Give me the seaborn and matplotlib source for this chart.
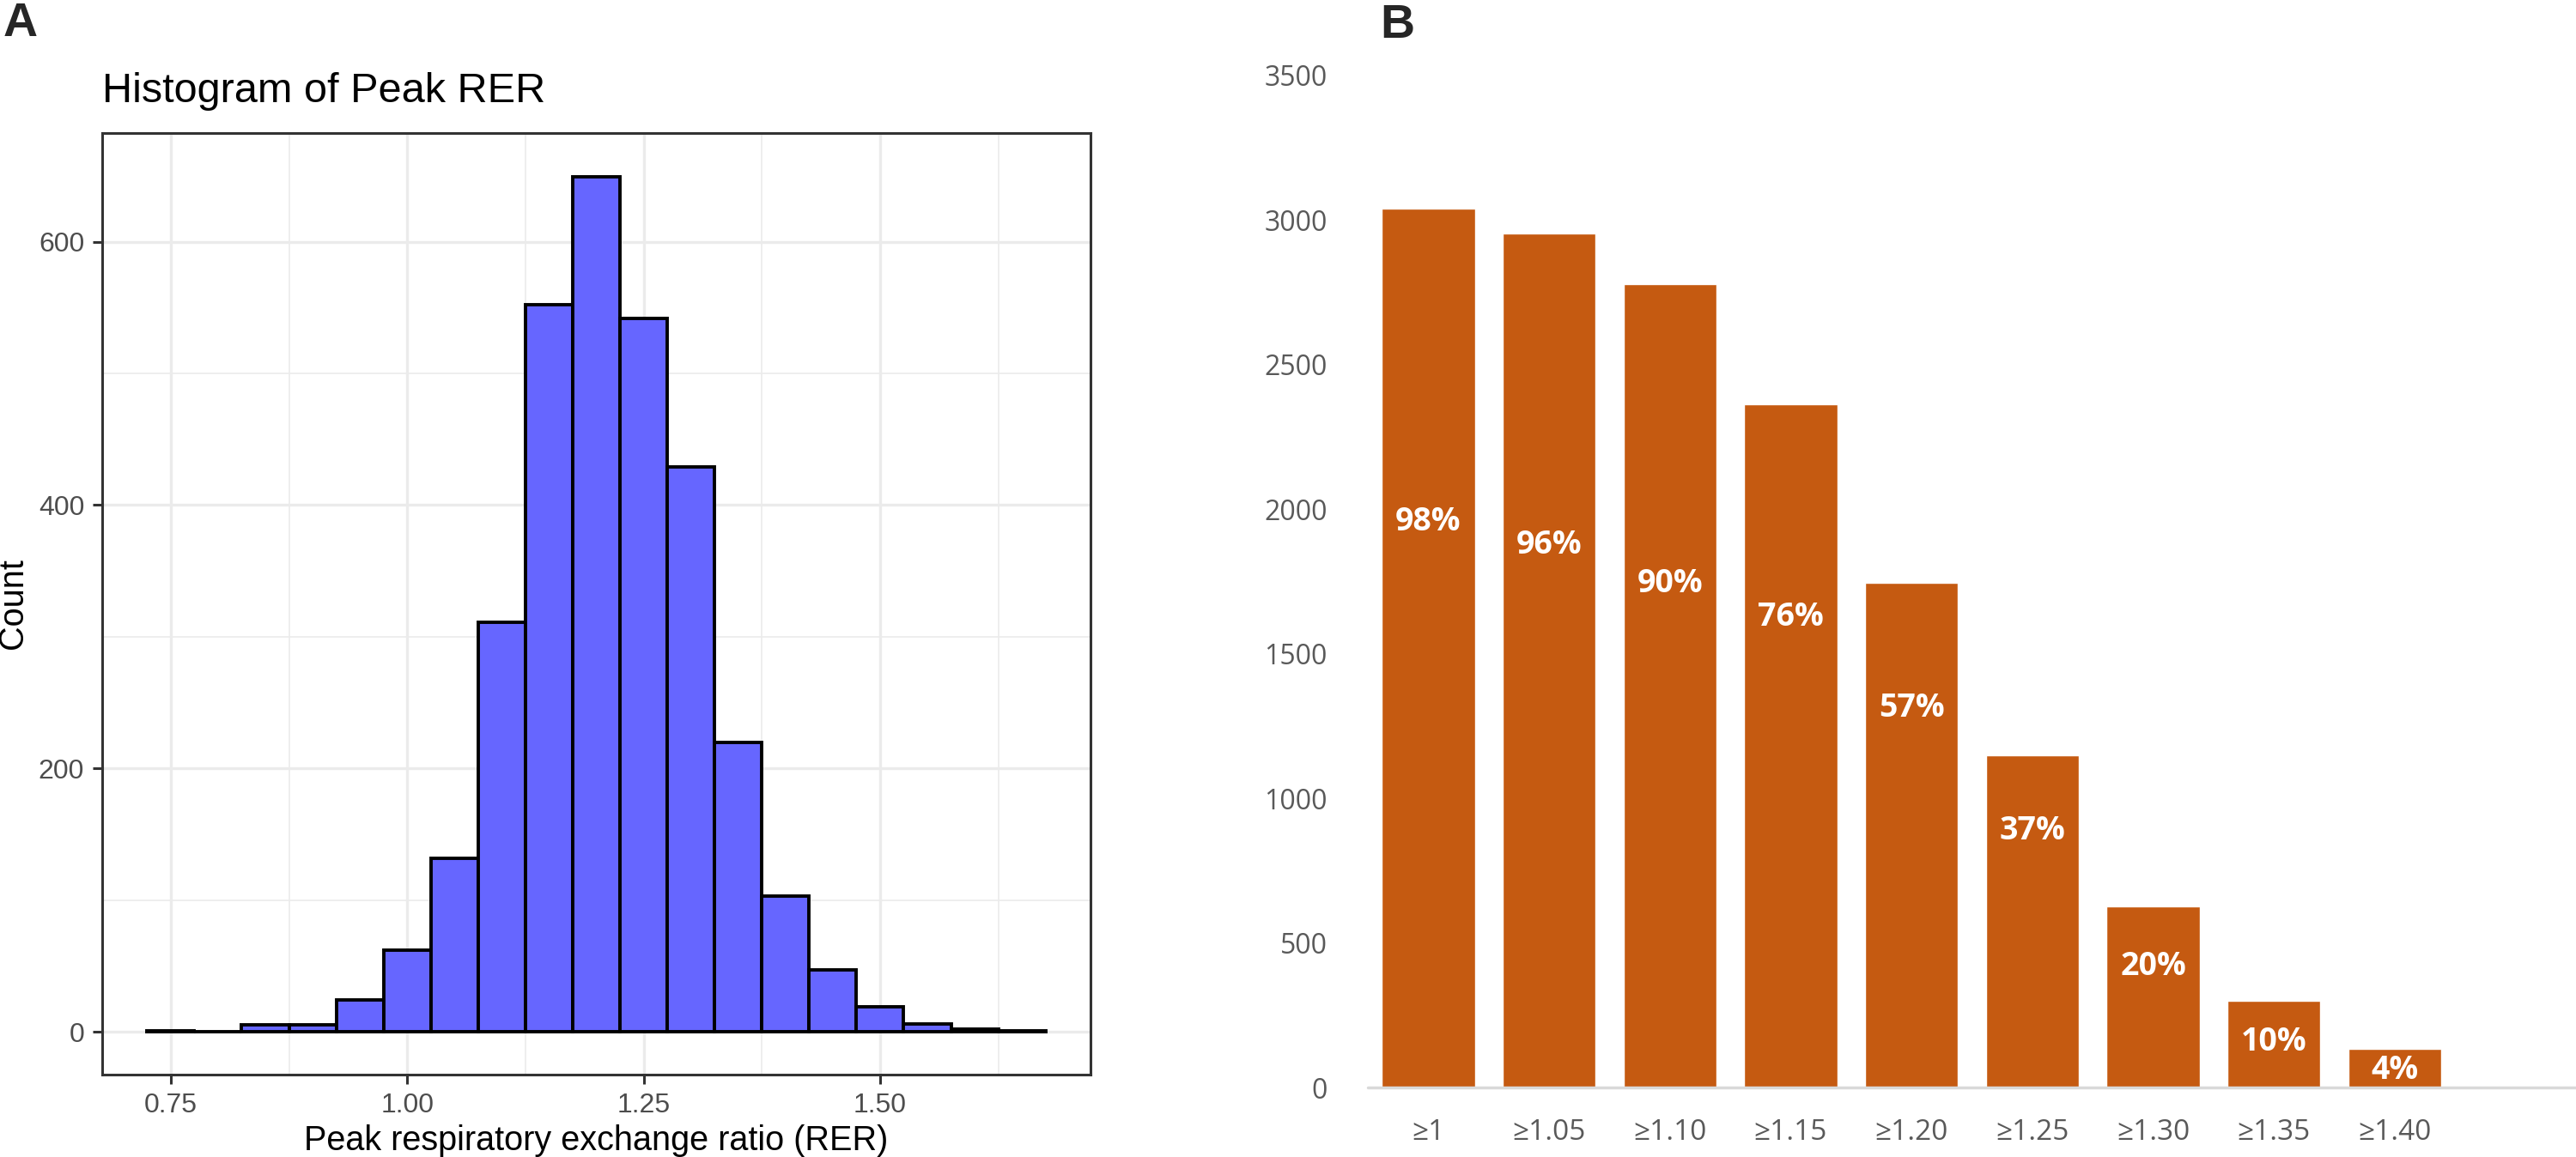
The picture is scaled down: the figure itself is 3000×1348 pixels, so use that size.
import matplotlib
matplotlib.use("Agg")
import matplotlib.pyplot as plt
import seaborn as sns

# panel A: histogram of peak RER (bin centers, width 0.05)
rer_bin_centers = [0.75, 0.80, 0.85, 0.90, 0.95, 1.00, 1.05, 1.10, 1.15, 1.20,
                   1.25, 1.30, 1.35, 1.40, 1.45, 1.50, 1.55, 1.60, 1.65]
rer_counts = [1, 0, 5, 5, 24, 62, 132, 311, 552, 649,
              542, 429, 220, 103, 47, 19, 6, 2, 1]
x_ticks_a = [0.75, 1.00, 1.25, 1.50]
y_ticks_a = [0, 200, 400, 600]

# panel B: number of tests reaching each RER threshold
thresholds = ["≥1", "≥1.05", "≥1.10", "≥1.15", "≥1.20", "≥1.25", "≥1.30", "≥1.35", "≥1.40"]
n_reached = [3040, 2954, 2779, 2364, 1747, 1148, 626, 300, 133]
pct_labels = ["98%", "96%", "90%", "76%", "57%", "37%", "20%", "10%", "4%"]
pct_label_y = [1955, 1875, 1744, 1628, 1311, 887, 418, 157, 59]
y_ticks_b = [0, 500, 1000, 1500, 2000, 2500, 3000, 3500]

sns.set_style("white")
plt.rcParams["font.family"] = ["Liberation Sans", "DejaVu Sans"]

fig = plt.figure(figsize=(30, 13.48), dpi=100)

# ---------------- panel A ----------------
axA = fig.add_axes([119 / 3000, 1 - 1252 / 1348, 1151 / 3000, 1097 / 1348])
grid_c = "#EBEBEB"
for v in [0.875, 1.125, 1.375, 1.625]:
    axA.axvline(v, color=grid_c, lw=1.2, zorder=0)
for v in [100, 300, 500]:
    axA.axhline(v, color=grid_c, lw=1.2, zorder=0)
for v in x_ticks_a:
    axA.axvline(v, color=grid_c, lw=2.4, zorder=0)
for v in y_ticks_a:
    axA.axhline(v, color=grid_c, lw=2.4, zorder=0)

sns.histplot(x=rer_bin_centers, weights=rer_counts, binwidth=0.05, binrange=(0.725, 1.675),
             color="#6666FF", alpha=1, edgecolor="black", linewidth=2.8, ax=axA, zorder=2)
axA.set_xlim(0.6775, 1.7225)
axA.set_ylim(-32.5, 682.5)
axA.set_xticks(x_ticks_a)
axA.set_xticklabels(["0.75", "1.00", "1.25", "1.50"])
axA.set_yticks(y_ticks_a)
axA.tick_params(axis="both", length=8, width=2.2, color="#333333", labelsize=23,
                labelcolor="#4D4D4D", pad=7, direction="out", bottom=True, left=True)
for s in axA.spines.values():
    s.set_visible(True)
    s.set_color("#333333")
    s.set_linewidth(2.2)
axA.set_xlabel("Peak respiratory exchange ratio (RER)", fontsize=28.5, color="black", labelpad=5)
axA.set_ylabel("Count", fontsize=28.5, color="black")
axA.yaxis.set_label_coords(-0.074, 0.5)
axA.set_title("Histogram of Peak RER", fontsize=35, loc="left", pad=26, color="black")

# ---------------- panel B ----------------
axB = fig.add_axes([1593 / 3000, 1 - 1267 / 1348, 1407 / 3000, 1179 / 1348])
sns.barplot(x=thresholds, y=n_reached, color="#C55A11", saturation=1, width=0.77, ax=axB)
axB.set_xlim(-0.5, 9.5)
axB.set_ylim(0, 3500)
axB.set_yticks(y_ticks_b)
axB.axhline(0, color="#D9D9D9", lw=2.5, zorder=3, clip_on=False)
for s in axB.spines.values():
    s.set_visible(False)
axB.tick_params(axis="both", length=0, labelcolor="#595959")
axB.tick_params(axis="y", pad=34, labelsize=23)
axB.tick_params(axis="x", pad=26, labelsize=24)
for lab in axB.get_xticklabels() + axB.get_yticklabels():
    lab.set_family(["Open Sans", "DejaVu Sans"])
axB.set_xlabel("")
axB.set_ylabel("")
for i, (txt, yv) in enumerate(zip(pct_labels, pct_label_y)):
    axB.text(i, yv, txt, ha="center", va="center", color="white", fontsize=27,
             fontweight="bold", family=["Open Sans", "DejaVu Sans"], zorder=4)

# panel letters
fig.text(4 / 3000, 1 - 2 / 1348, "A", fontsize=40, fontweight="bold", ha="left", va="top")
fig.text(1607 / 3000, 1 - 4 / 1348, "B", fontsize=40, fontweight="bold", ha="left", va="top")

fig.savefig("out.png", dpi=100, facecolor="white")
